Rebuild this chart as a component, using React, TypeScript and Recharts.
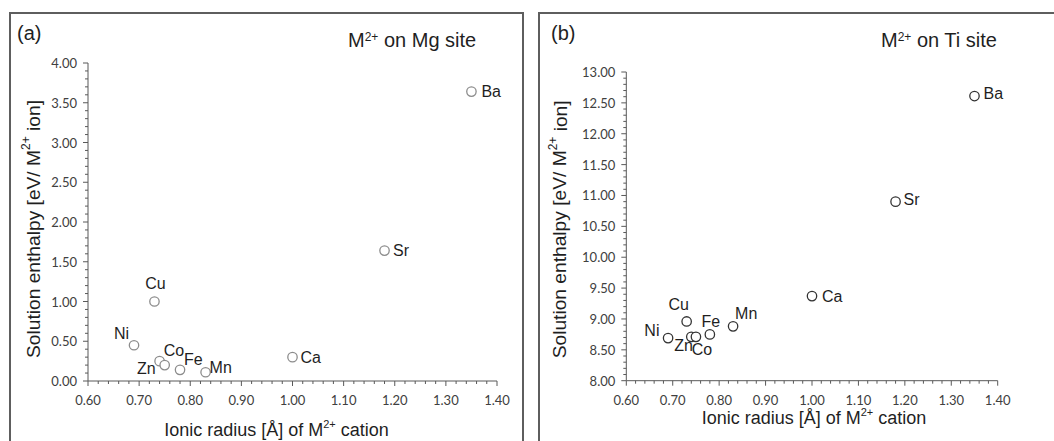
import React from 'react';
import { ScatterChart, Scatter, XAxis, YAxis, Label } from 'recharts';

// ---- data ----
const elements = ['Ni', 'Cu', 'Zn', 'Co', 'Fe', 'Mn', 'Ca', 'Sr', 'Ba'];
const ionicRadius = [0.69, 0.73, 0.74, 0.75, 0.78, 0.83, 1.0, 1.18, 1.35];
const enthalpyMgSite = [0.45, 1.0, 0.25, 0.2, 0.14, 0.11, 0.3, 1.64, 3.64];
const enthalpyTiSite = [8.69, 8.96, 8.71, 8.71, 8.75, 8.88, 9.37, 10.9, 12.61];

const xMajorTicks = [0.6, 0.7, 0.8, 0.9, 1.0, 1.1, 1.2, 1.3, 1.4];
const yMajorTicksMg = [0, 0.5, 1.0, 1.5, 2.0, 2.5, 3.0, 3.5, 4.0];
const yMajorTicksTi = [8.0, 8.5, 9.0, 9.5, 10.0, 10.5, 11.0, 11.5, 12.0, 12.5, 13.0];

// ---- label placement (style only) ----
type Place = [string, number, number];
const placeMg: Record<string, Place> = {
  Ni: ['end', -5, -12],
  Cu: ['middle', 1, -18],
  Zn: ['end', -4, 7],
  Co: ['start', -1, -15],
  Fe: ['start', 4, -10],
  Mn: ['start', 4, -5],
  Ca: ['start', 8, 0],
  Sr: ['start', 8.5, 0],
  Ba: ['start', 10, 0],
};
const placeTi: Record<string, Place> = {
  Ni: ['end', -8.6, -8],
  Cu: ['middle', -8, -17],
  Zn: ['end', 1.7, 9],
  Co: ['start', -4.3, 12.7],
  Fe: ['middle', 1, -13],
  Mn: ['start', 2, -13],
  Ca: ['start', 10, 0],
  Sr: ['start', 8, -2],
  Ba: ['start', 9, -3],
};

const dataMg = elements.map((name, i) => ({ name, r: ionicRadius[i], h: enthalpyMgSite[i] }));
const dataTi = elements.map((name, i) => ({ name, r: ionicRadius[i], h: enthalpyTiSite[i] }));

function withMinor(majors: number[], parts: number): number[] {
  const out: number[] = [];
  for (let i = 0; i < majors.length - 1; i++) {
    const a = majors[i];
    const b = majors[i + 1];
    for (let k = 0; k < parts; k++) out.push(Number((a + ((b - a) * k) / parts).toFixed(4)));
  }
  out.push(majors[majors.length - 1]);
  return out;
}
const isMajor = (v: number, majors: number[]) => majors.some((m) => Math.abs(m - v) < 1e-6);

const TICK_FONT = 'Lato, "Liberation Sans", Arial, sans-serif';
const TEXT_FONT = '"Liberation Sans", Arial, sans-serif';
const AXIS_COLOR = '#595959';
const TICK_TEXT = '#404040';
const TEXT_COLOR = '#1f1f1f';

const makeXTick = (majors: number[]) => (props: any) => {
  const { x, y, payload } = props;
  const major = isMajor(payload.value, majors);
  return (
    <g>
      <line x1={x} y1={y} x2={x} y2={y + (major ? 5 : 3)} stroke={AXIS_COLOR} strokeWidth={1} />
      {major && (
        <text x={x} y={y + 19} textAnchor="middle" dominantBaseline="central" fontSize={13} fontFamily={TICK_FONT} fill={TICK_TEXT}>
          {payload.value.toFixed(2)}
        </text>
      )}
    </g>
  );
};

const makeYTick = (majors: number[]) => (props: any) => {
  const { x, y, payload } = props;
  const major = isMajor(payload.value, majors);
  return (
    <g>
      <line x1={x} y1={y} x2={x - (major ? 5 : 3)} y2={y} stroke={AXIS_COLOR} strokeWidth={1} />
      {major && (
        <text x={x - 11} y={y} textAnchor="end" dominantBaseline="central" fontSize={13} fontFamily={TICK_FONT} fill={TICK_TEXT}>
          {payload.value.toFixed(2)}
        </text>
      )}
    </g>
  );
};

const makeShape = (place: Record<string, Place>, stroke: string) => (props: any) => {
  const { cx, cy, payload } = props;
  const [anchor, dx, dy] = place[payload.name];
  return (
    <g>
      <circle cx={cx} cy={cy} r={4.7} fill="#ffffff" stroke={stroke} strokeWidth={1.3} />
      <text x={cx + dx} y={cy + dy} textAnchor={anchor as any} dominantBaseline="central" fontSize={16} fontFamily={TEXT_FONT} fill={TEXT_COLOR}>
        {payload.name}
      </text>
    </g>
  );
};

const xTitle = (dx: number, dy: number) => (props: any) => {
  const vb = props.viewBox;
  const cx = vb.x + vb.width / 2 + dx;
  const cy = vb.y + dy;
  return (
    <text x={cx} y={cy} textAnchor="middle" dominantBaseline="central" fontSize={18} fontFamily={TEXT_FONT} fill={TEXT_COLOR}>
      Ionic radius [Å] of M
      <tspan dy={-6} fontSize={11}>2+</tspan>
      <tspan dy={6}> cation</tspan>
    </text>
  );
};

const yTitle = (cxOff: number, cyOff: number) => (props: any) => {
  const vb = props.viewBox;
  const cx = vb.x + cxOff;
  const cy = vb.y + vb.height / 2 + cyOff;
  return (
    <text x={cx} y={cy} transform={`rotate(-90, ${cx}, ${cy})`} textAnchor="middle" dominantBaseline="central" fontSize={19.2} fontFamily={TEXT_FONT} fill={TEXT_COLOR}>
      Solution enthalpy [eV/ M
      <tspan dy={-7} fontSize={12}>2+</tspan>
      <tspan dy={7}> ion]</tspan>
    </text>
  );
};

const titleStyle: React.CSSProperties = {
  position: 'absolute',
  fontFamily: TEXT_FONT,
  fontSize: 20,
  color: TEXT_COLOR,
  lineHeight: '20px',
  whiteSpace: 'nowrap',
};
const supStyle: React.CSSProperties = { fontSize: 12, verticalAlign: 'top', position: 'relative', top: -3 };

const panelBorder: React.CSSProperties = {
  position: 'absolute',
  border: '2px solid #5e5e5e',
  boxSizing: 'border-box',
};

export default function App() {
  const xTicks = withMinor(xMajorTicks, 5);
  const yTicksMg = withMinor(yMajorTicksMg, 5);
  const yTicksTi = withMinor(yMajorTicksTi, 5);
  return (
    <div style={{ position: 'absolute', left: 0, top: 0, width: 1054, height: 441, overflow: 'hidden', background: '#ffffff' }}>
      {/* Panel (a) */}
      <div style={{ ...panelBorder, left: 9, top: 12, width: 515, height: 450 }} />
      <div style={{ position: 'absolute', left: 10, top: 13 }}>
        <ScatterChart width={513} height={430} margin={{ top: 50, right: 26, bottom: 32, left: 0 }}>
          <XAxis
            dataKey="r"
            type="number"
            domain={[0.6, 1.4]}
            ticks={xTicks}
            interval={0}
            tickSize={0}
            tickMargin={0}
            tickLine={false}
            tick={makeXTick(xMajorTicks)}
            axisLine={{ stroke: AXIS_COLOR, strokeWidth: 1 }}
            height={30}
          >
            <Label content={xTitle(-16, 49)} />
          </XAxis>
          <YAxis
            dataKey="h"
            type="number"
            domain={[0, 4]}
            ticks={yTicksMg}
            interval={0}
            tickSize={0}
            tickMargin={0}
            tickLine={false}
            tick={makeYTick(yMajorTicksMg)}
            axisLine={{ stroke: AXIS_COLOR, strokeWidth: 1 }}
            width={78}
          >
            <Label content={yTitle(23, 7)} />
          </YAxis>
          <Scatter data={dataMg} isAnimationActive={false} shape={makeShape(placeMg, '#8c8c8c')} />
        </ScatterChart>
      </div>
      <div style={{ ...titleStyle, left: 17, top: 23 }}>(a)</div>
      <div style={{ ...titleStyle, left: 348, top: 30 }}>
        M<span style={supStyle}>2+</span> on Mg site
      </div>

      {/* Panel (b) */}
      <div style={{ ...panelBorder, left: 538, top: 12, width: 530, height: 450 }} />
      <div style={{ position: 'absolute', left: 539, top: 13 }}>
        <ScatterChart width={515} height={430} margin={{ top: 59, right: 56.3, bottom: 32.3, left: 0 }}>
          <XAxis
            dataKey="r"
            type="number"
            domain={[0.6, 1.4]}
            ticks={xTicks}
            interval={0}
            tickSize={0}
            tickMargin={0}
            tickLine={false}
            tick={makeXTick(xMajorTicks)}
            axisLine={{ stroke: AXIS_COLOR, strokeWidth: 1 }}
            height={30}
          >
            <Label content={xTitle(2, 37)} />
          </XAxis>
          <YAxis
            dataKey="h"
            type="number"
            domain={[8, 13]}
            ticks={yTicksTi}
            interval={0}
            tickSize={0}
            tickMargin={0}
            tickLine={false}
            tick={makeYTick(yMajorTicksTi)}
            axisLine={{ stroke: AXIS_COLOR, strokeWidth: 1 }}
            width={87.3}
          >
            <Label content={yTitle(21, 3)} />
          </YAxis>
          <Scatter data={dataTi} isAnimationActive={false} shape={makeShape(placeTi, '#333333')} />
        </ScatterChart>
      </div>
      <div style={{ ...titleStyle, left: 551, top: 23 }}>(b)</div>
      <div style={{ ...titleStyle, left: 881, top: 30 }}>
        M<span style={supStyle}>2+</span> on Ti site
      </div>
    </div>
  );
}
